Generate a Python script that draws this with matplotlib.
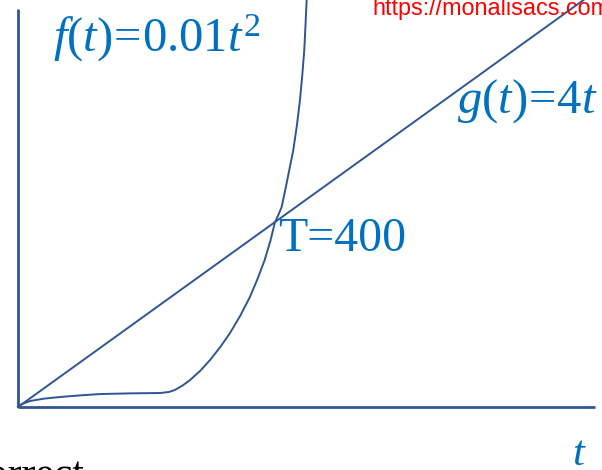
import numpy as np
import matplotlib.pyplot as plt

plt.rcParams['mathtext.fontset'] = 'custom'
plt.rcParams['mathtext.rm'] = 'Liberation Serif'
plt.rcParams['mathtext.it'] = 'Liberation Serif:italic'

# f(t) curve
f_t = [0, 6, 18.7, 40, 65.4, 95, 127.6, 175, 221, 235, 244, 256, 268, 284,
       299, 315, 330, 346, 361, 373, 384, 393, 400, 405.5, 410.4, 418.2,
       428.5, 434.2, 438.9, 442.5, 445.6, 447.5, 449.3]
f_val = [0, 25, 52, 72, 86.5, 100, 112, 118, 121, 130, 147, 185, 234, 315,
         407, 520, 640, 790, 952, 1110, 1272, 1440, 1600, 1665, 1730, 1938,
         2223, 2439, 2656, 2872, 3088, 3305, 3521]

# g(t) line
g_t = [0, 890]
g_val = [0, 3560]

# axis extents
t_axis_end = 898
y_axis_end = 3443

line_col = '#2f5597'
text_col = '#0070c0'

fig = plt.figure(figsize=(6.02, 4.70), dpi=100)
ax = fig.add_axes([0, 0, 1, 1])
ax.set_xlim(-28.0, 909.0)
ax.set_ylim(-545, 3521)
ax.axis('off')

ax.plot([0, 0], [0, y_axis_end], color=line_col, lw=2.0, solid_capstyle='butt')
ax.plot([0, t_axis_end], [0, 0], color=line_col, lw=2.0, solid_capstyle='butt')
ax.plot(f_t, f_val, color=line_col, lw=1.4)
ax.plot(g_t, g_val, color=line_col, lw=1.4)

def px(x, y):
    return x / 602, 1 - y / 470

fig.text(*px(53, 52), r'$f(t)\!=\!0.01t^2$', color=text_col, fontsize=35,
         ha='left', va='baseline')
fig.text(*px(457, 113), r'$g(t)\!=\!4t$', color=text_col, fontsize=35,
         ha='left', va='baseline')
fig.text(*px(278, 251), 'T=400', color=text_col, fontsize=34.5,
         family='Liberation Serif', ha='left', va='baseline')
fig.text(*px(572, 465), r'$t$', color=text_col, fontsize=31,
         ha='left', va='baseline')
fig.text(*px(84, 486), 'Correct', color='black', fontsize=30,
         family='Liberation Serif', ha='right', va='baseline')
fig.text(*px(372, 15), 'https://monalisacs.com', color='red', fontsize=16.8,
         family='Liberation Sans', ha='left', va='baseline')

fig.savefig('out.png', dpi=100)
